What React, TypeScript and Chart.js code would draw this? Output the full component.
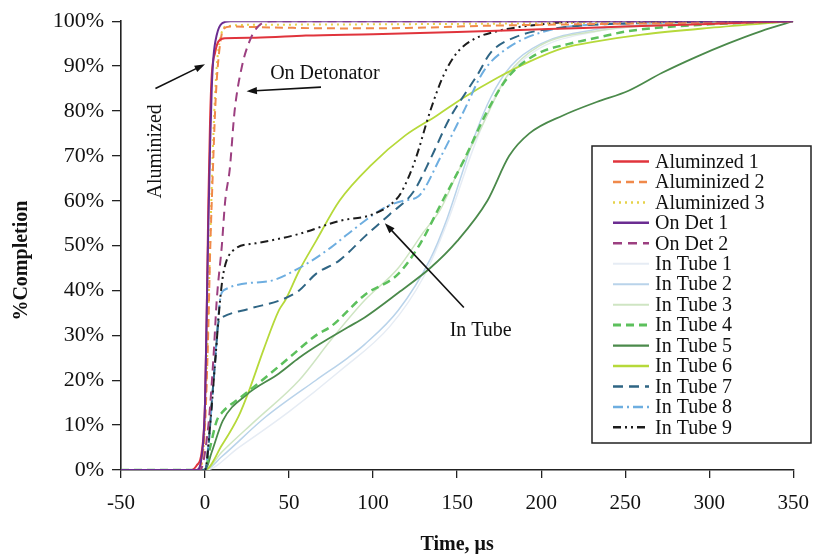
import React, { useEffect, useRef } from "react";
import { Chart, registerables } from "chart.js";

Chart.register(...registerables);

type Pt = [number, number];

// ---- axes ----
const X_MIN = -50;
const X_MAX = 350;
const X_STEP = 50;
const Y_MIN = 0;
const Y_MAX = 100;
const Y_STEP = 10;

const X_TITLE = "Time, μs";
const Y_TITLE = "%Completion";

// ---- series names (legend order) ----
const seriesNames = [
  "Aluminzed 1",
  "Aluminized 2",
  "Aluminized 3",
  "On Det 1",
  "On Det 2",
  "In Tube 1",
  "In Tube 2",
  "In Tube 3",
  "In Tube 4",
  "In Tube 5",
  "In Tube 6",
  "In Tube 7",
  "In Tube 8",
  "In Tube 9",
];

// ---- data: [time µs, % completion] ----
const aluminized1: Pt[] = [[-50,0],[-8,0],[-5,1],[-2,4],[0,15],[1,35],[2,60],[3,78],[4,88],[6,93],[8,95.5],[12,96.2],[30,96.3],[60,96.8],[100,97.1],[150,97.6],[200,98.2],[250,98.8],[300,99.4],[350,100]];
const aluminized2: Pt[] = [[-50,0],[-5,0],[-2,2],[0,10],[2,32],[3,48],[4.7,67],[6,80],[7,87],[9,95],[11,98.3],[15,98.8],[40,98.6],[80,98.4],[120,98.5],[170,99],[220,99.3],[280,99.6],[350,100]];
const aluminized3: Pt[] = [[-50,0],[-4,0],[-1,4],[1,22],[3,50],[5,75],[7,90],[9,96],[12,98.8],[30,99.2],[150,99.4],[350,100]];
const onDet1: Pt[] = [[-50,0],[-5,0],[-2,3],[0,15],[1,35],[2,55],[3,72],[4,85],[5,92],[7,97],[10,99.5],[15,100],[350,100]];
const onDet2: Pt[] = [[-50,0],[-3,0],[2,10],[5,25],[7,38],[10,50],[12,60],[14.7,67],[17.6,80],[22,90],[27,96],[32,99],[40,100],[350,100]];
const inTube1: Pt[] = [[-50,0],[0,0],[20,5],[50,13],[80,22],[110,32],[130,43],[145,56],[160,72],[175,85],[195,93],[230,97.5],[280,99.3],[350,100]];
const inTube2: Pt[] = [[-50,0],[0,0],[10,3],[36,11.8],[66,20],[85,25],[95,28],[115,35.6],[134,47],[144,56],[152,65],[160,74],[170,83],[182,90],[200,95],[230,98],[280,99.5],[350,100]];
const inTube3: Pt[] = [[-50,0],[0,0],[10,4],[30,11],[56,20],[75,29],[95,37.8],[115,45],[130,53],[140,58],[150,66],[164,76],[180,88],[199,94.5],[233,97.8],[280,99.4],[350,100]];
const inTube4: Pt[] = [[-50,0],[0,0],[3,5],[7,11],[10.6,13],[20.6,16],[34,20],[50,25],[66,30],[75,32],[95,39],[115,43.7],[128,50.4],[140,59],[154,69],[168,80],[180,87.4],[197,92.6],[217,95],[233,96.3],[252,97.8],[300,99.3],[350,100]];
const inTube5: Pt[] = [[-50,0],[0,0],[4,4],[10.6,11],[24.5,16.7],[44,21.5],[56,25],[68,28],[85,31.8],[95,34],[115,39.5],[134,45],[150,51],[168,60],[181,70],[193,75],[213,79],[233,82],[252,84.5],[272,88.5],[292,92],[311,95],[331,97.8],[350,100]];
const inTube6: Pt[] = [[-50,0],[0,0],[10,5.5],[20,12],[26.5,18],[35,27],[44,35.6],[48,38],[56,44.4],[66,51],[80,60],[99,68],[119,74.5],[138,79],[154,83],[174,87.4],[193,91],[213,94],[233,95.5],[260,97],[300,98.5],[350,100]];
const inTube7: Pt[] = [[-50,0],[0,0],[2,5],[4,15],[6,24],[7,29],[8,33],[10,34],[27,36],[46,38],[56,40],[66,43.7],[80,46.7],[95,52],[110,57],[124,62],[135,70],[145,78],[155,84],[162,88],[170,93],[185,96.5],[210,98.5],[260,99.6],[350,100]];
const inTube8: Pt[] = [[-50,0],[0,0],[3,10],[6,25],[9,38],[11,40],[37,42],[56,45],[75,49.6],[85,52.6],[107,58.5],[118,60],[127,61],[140,69.6],[154,80],[166,89],[180,94],[200,97.5],[230,99.2],[350,100]];
const inTube9: Pt[] = [[-50,0],[-30,0],[0,0],[3,10],[6,24],[9,38],[11,44],[17,49],[30,50.5],[55,52.5],[80,55.5],[100,57],[113,60],[117,62],[125,69],[134,80],[142,88],[150,93],[160,96],[174,97.8],[193,99],[230,100],[350,100]];

const seriesData: Pt[][] = [
  aluminized1, aluminized2, aluminized3, onDet1, onDet2,
  inTube1, inTube2, inTube3, inTube4, inTube5, inTube6, inTube7, inTube8, inTube9,
];

// ---- styles ----
const seriesColors = [
  "#e0343c", "#f0894a", "#e6d24a", "#6b2c91", "#9c3f80",
  "#e6ecf4", "#b9d3ea", "#cfe5c3", "#5cc05c", "#4b8a4b", "#b6d93a", "#2f6584", "#6eaee0", "#1c1c1c",
];
const seriesDashes: number[][] = [
  [], [8, 5], [2, 4], [], [9, 6],
  [], [], [], [8, 5], [], [], [10, 6], [10, 4, 2, 4], [8, 4, 2, 4, 2, 4],
];
const seriesWidths = [2, 2, 2, 2, 2, 1.5, 1.5, 1.5, 2.5, 1.8, 1.8, 2, 2, 2];

// ---- annotations (data units) ----
const annotations = [
  { text: "Aluminized", at: [-29.5, 71] as Pt, rotate: true, from: [-29.5, 85] as Pt, to: [0, 90.4] as Pt },
  { text: "On Detonator", at: [71.3, 88.4] as Pt, rotate: false, from: [69, 85.3] as Pt, to: [24.7, 84.4] as Pt },
  { text: "In Tube", at: [164, 31] as Pt, rotate: false, from: [154, 36.2] as Pt, to: [107, 55] as Pt },
];

const SERIF = '"Liberation Serif", "Times New Roman", serif';

function drawArrow(ctx: CanvasRenderingContext2D, x1: number, y1: number, x2: number, y2: number) {
  const ang = Math.atan2(y2 - y1, x2 - x1);
  const head = 11;
  ctx.beginPath();
  ctx.moveTo(x1, y1);
  ctx.lineTo(x2 - Math.cos(ang) * head * 0.8, y2 - Math.sin(ang) * head * 0.8);
  ctx.stroke();
  ctx.beginPath();
  ctx.moveTo(x2, y2);
  ctx.lineTo(x2 - head * Math.cos(ang - 0.33), y2 - head * Math.sin(ang - 0.33));
  ctx.lineTo(x2 - head * Math.cos(ang + 0.33), y2 - head * Math.sin(ang + 0.33));
  ctx.closePath();
  ctx.fill();
}

const overlayPlugin = {
  id: "overlay",
  afterDraw(chart: any) {
    const ctx: CanvasRenderingContext2D = chart.ctx;
    const xs = chart.scales.x;
    const ys = chart.scales.y;
    const area = chart.chartArea;
    ctx.save();
    ctx.fillStyle = "#111";
    ctx.strokeStyle = "#111";

    // axis titles
    ctx.font = `bold 20px ${SERIF}`;
    ctx.textAlign = "center";
    ctx.textBaseline = "middle";
    ctx.fillText(X_TITLE, (area.left + area.right) / 2, 545);
    ctx.save();
    ctx.translate(22, (area.top + area.bottom) / 2 + 15);
    ctx.rotate(-Math.PI / 2);
    ctx.fillText(Y_TITLE, 0, 0);
    ctx.restore();

    // annotations
    ctx.font = `20px ${SERIF}`;
    ctx.lineWidth = 1.6;
    for (const a of annotations) {
      const tx = xs.getPixelForValue(a.at[0]);
      const ty = ys.getPixelForValue(a.at[1]);
      if (a.rotate) {
        ctx.save();
        ctx.translate(tx, ty);
        ctx.rotate(-Math.PI / 2);
        ctx.fillText(a.text, 0, 0);
        ctx.restore();
      } else {
        ctx.fillText(a.text, tx, ty);
      }
      drawArrow(
        ctx,
        xs.getPixelForValue(a.from[0]), ys.getPixelForValue(a.from[1]),
        xs.getPixelForValue(a.to[0]), ys.getPixelForValue(a.to[1])
      );
    }

    // legend box
    const bx = 592, by = 146, bw = 219, bh = 297;
    ctx.fillStyle = "#fff";
    ctx.fillRect(bx, by, bw, bh);
    ctx.lineWidth = 1.5;
    ctx.strokeStyle = "#222";
    ctx.strokeRect(bx, by, bw, bh);
    ctx.font = `20px ${SERIF}`;
    ctx.textAlign = "left";
    ctx.textBaseline = "middle";
    seriesNames.forEach((name, i) => {
      const y = 161.5 + i * 20.45;
      ctx.save();
      ctx.strokeStyle = seriesColors[i];
      ctx.lineWidth = seriesWidths[i] + 0.5;
      ctx.setLineDash(seriesDashes[i]);
      ctx.beginPath();
      ctx.moveTo(613, y);
      ctx.lineTo(649, y);
      ctx.stroke();
      ctx.restore();
      ctx.fillStyle = "#111";
      ctx.fillText(name, 655, y + 1);
    });
    ctx.restore();
  },
};

export default function App() {
  const ref = useRef<HTMLCanvasElement>(null);

  useEffect(() => {
    document.body.style.margin = "0";
    const canvas = ref.current;
    if (!canvas) return;
    const datasets = seriesData.map((pts, i) => ({
      label: seriesNames[i],
      data: pts.map(([x, y]) => ({ x, y })),
      borderColor: seriesColors[i],
      backgroundColor: seriesColors[i],
      borderDash: seriesDashes[i],
      borderWidth: seriesWidths[i],
      pointRadius: 0,
      fill: false,
      cubicInterpolationMode: "monotone" as const,
    }));
    // draw the faint lines first, then stronger ones above
    const order = [5, 6, 7, 10, 9, 8, 12, 11, 13, 2, 1, 0, 4, 3];
    const ordered = order.map((i) => ({ ...datasets[i], order: order.length - order.indexOf(i) }));

    const chart = new Chart(canvas, {
      type: "line",
      data: { datasets: ordered },
      options: {
        animation: false,
        responsive: false,
        maintainAspectRatio: false,
        layout: { padding: { left: 0, top: 20, right: 22, bottom: 0 } },
        plugins: { legend: { display: false }, tooltip: { enabled: false } },
        scales: {
          x: {
            type: "linear",
            min: X_MIN,
            max: X_MAX,
            afterFit: (s: any) => { s.height = 84; },
            ticks: {
              stepSize: X_STEP,
              color: "#111",
              font: { family: SERIF, size: 21 },
              padding: 13,
              maxRotation: 0,
            },
            grid: { drawOnChartArea: false, drawTicks: true, tickLength: 8, color: "#222", lineWidth: 1.3 },
            border: { display: true, color: "#222", width: 1.6 },
          },
          y: {
            type: "linear",
            min: Y_MIN,
            max: Y_MAX,
            afterFit: (s: any) => { s.width = 121; },
            ticks: {
              stepSize: Y_STEP,
              color: "#111",
              font: { family: SERIF, size: 22 },
              padding: 8,
              callback: (v: any) => `${v}%`,
            },
            grid: { drawOnChartArea: false, drawTicks: true, tickLength: 9, color: "#222", lineWidth: 1.3 },
            border: { display: true, color: "#222", width: 1.6 },
          },
        },
      },
      plugins: [overlayPlugin],
    });
    return () => chart.destroy();
  }, []);

  return (
    <div style={{ width: 822, height: 554, background: "#fff" }}>
      <canvas ref={ref} width={822} height={554} />
    </div>
  );
}
